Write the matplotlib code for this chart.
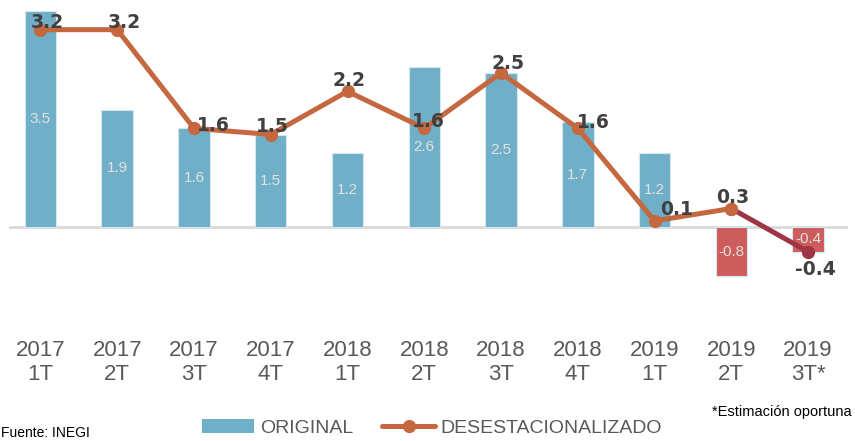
import matplotlib
matplotlib.use("Agg")
import matplotlib.pyplot as plt
from matplotlib.patches import Patch
from matplotlib.lines import Line2D

categories = ["2017\n1T", "2017\n2T", "2017\n3T", "2017\n4T", "2018\n1T", "2018\n2T",
              "2018\n3T", "2018\n4T", "2019\n1T", "2019\n2T", "2019\n3T*"]
original = [3.5, 1.9, 1.6, 1.5, 1.2, 2.6, 2.5, 1.7, 1.2, -0.8, -0.4]
desest = [3.2, 3.2, 1.6, 1.5, 2.2, 1.6, 2.5, 1.6, 0.1, 0.3, -0.4]

# label offsets (points) for line labels: (dx, dy)
lab_off = [(5, 5), (5, 5), (14, 2), (1, 6), (1, 8), (3, 5), (5, 7), (11, 4), (16, 8), (1, 8), (5, -13)]

BLUE = "#6FAFC7"
RED = "#CD5C5C"
ORANGE = "#C5673F"
DARKRED = "#9E3445"
TXT = "#404040"
GRAY = "#595959"

fig = plt.figure(figsize=(8.55, 4.41), dpi=100)
ax = fig.add_axes([9/855, 1-330/441, (848-9)/855, (330-5)/441])
x = list(range(len(categories)))

bar_colors = [BLUE if v >= 0 else RED for v in original]
ax.bar(x, original, width=0.41, color=bar_colors, edgecolor="#D6E6EE", linewidth=0.8, zorder=2)
for xi, v in zip(x, original):
    ax.text(xi, v/2, f"{v:.1f}", ha="center", va="center", color="#E2E2E2",
            fontsize=11, family="Liberation Sans", zorder=3)

ax.axhline(0, color="#D9D9D9", lw=2, zorder=1)

ax.plot(x[:-1], desest[:-1], color=ORANGE, lw=3.6, marker="o", ms=8.5, zorder=4,
        solid_capstyle="round", solid_joinstyle="round")
ax.plot(x[-2:], desest[-2:], color=DARKRED, lw=3.6, zorder=4, solid_capstyle="round")
ax.plot(x[-2], desest[-2], "o", color=ORANGE, ms=8.5, zorder=5)
ax.plot(x[-1], desest[-1], "o", color=DARKRED, ms=8.5, zorder=5)

for xi, v, (dx, dy) in zip(x, desest, lab_off):
    ax.annotate(f"{v:.1f}", (xi, v), xytext=(dx, dy), textcoords="offset points",
                ha="center", va="center", fontsize=13.5, fontweight="bold", color=TXT, zorder=6)

ax.set_xlim(-0.41, 10.52)
ax.set_ylim(-1.67, 3.6)
ax.set_xticks(x)
ax.set_xticklabels(categories, fontsize=16, family="Liberation Sans", color=GRAY,
                   linespacing=1.2)
ax.tick_params(axis="x", length=0, pad=7)
ax.set_yticks([])
for s in ax.spines.values():
    s.set_visible(False)

handles = [Patch(facecolor=BLUE, edgecolor="none"),
           Line2D([0], [0], color=ORANGE, lw=3.6, marker="o", ms=8.5, solid_capstyle="round")]
leg = fig.legend(handles, ["ORIGINAL", "DESESTACIONALIZADO"], ncol=2,
                 loc="center", bbox_to_anchor=(432/855, 1-428/441), frameon=False,
                 prop={"family": "Liberation Sans", "size": 14},
                 handlelength=2.7, handleheight=0.75, columnspacing=1.5, handletextpad=0.3)
for t in leg.get_texts():
    t.set_color(GRAY)

fig.text(852/855, 1-412/441, "*Estimación oportuna", ha="right", va="center",
         fontsize=10.5, family="Liberation Sans", color="#000000")
fig.text(1/855, 1-433/441, "Fuente: INEGI", ha="left", va="center",
         fontsize=10, family="Liberation Sans", color="#000000")

fig.savefig("out.png", dpi=100)
